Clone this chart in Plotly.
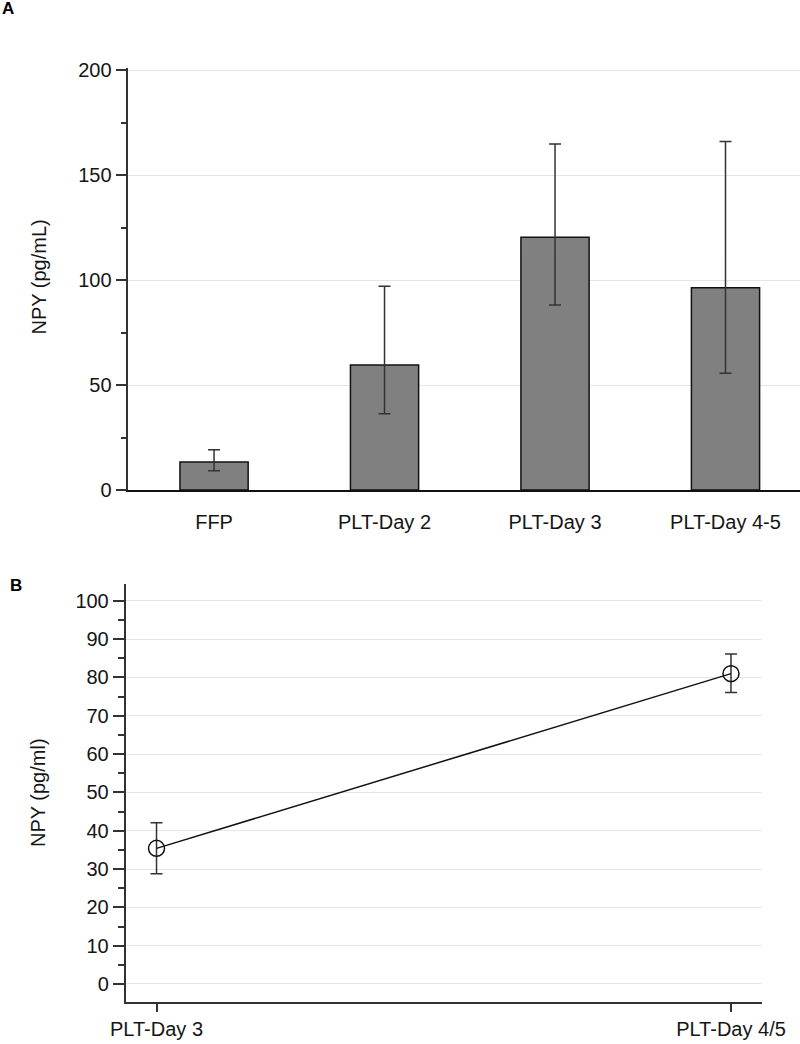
import plotly.graph_objects as go

# Panel A data
cats_a = ["FFP", "PLT-Day 2", "PLT-Day 3", "PLT-Day 4-5"]
mean_a = [13.3, 59.5, 120.3, 96.3]
upper_a = [19.2, 97.0, 164.8, 166.0]
lower_a = [9.2, 36.3, 88.1, 55.6]

# Panel B data
cats_b = ["PLT-Day 3", "PLT-Day 4/5"]
mean_b = [35.4, 81.0]
upper_b = [42.1, 86.1]
lower_b = [28.8, 76.1]

yticks_a = [0, 50, 100, 150, 200]
yticks_b = [0, 10, 20, 30, 40, 50, 60, 70, 80, 90, 100]

FONT = "Arial, Liberation Sans, sans-serif"
AX = "#333333"
GRID = "#e6e6e6"
W, H = 800, 1044

fig = go.Figure()

fig.add_trace(go.Bar(
    x=cats_a, y=mean_a, width=0.4,
    marker=dict(color="#808080", line=dict(color="#111111", width=1.5)),
    error_y=dict(type="data", symmetric=False,
                 array=[u - m for u, m in zip(upper_a, mean_a)],
                 arrayminus=[m - l for m, l in zip(mean_a, lower_a)],
                 color=AX, thickness=1.5, width=6),
    xaxis="x", yaxis="y", showlegend=False, hoverinfo="skip",
))

fig.add_trace(go.Scatter(
    x=cats_b, y=mean_b, mode="lines+markers",
    line=dict(color="#111111", width=1.5),
    marker=dict(symbol="circle-open", size=16, color="#111111", line=dict(width=1.5)),
    error_y=dict(type="data", symmetric=False,
                 array=[u - m for u, m in zip(upper_b, mean_b)],
                 arrayminus=[m - l for m, l in zip(mean_b, lower_b)],
                 color=AX, thickness=1.5, width=6),
    xaxis="x2", yaxis="y2", showlegend=False, hoverinfo="skip",
))

def px_x(p):
    return p / W

def px_y(p):
    return (H - p) / H

fig.update_layout(
    width=W, height=H, autosize=False,
    margin=dict(l=0, r=0, t=0, b=0, pad=0),
    paper_bgcolor="white", plot_bgcolor="white",
    font=dict(family=FONT, size=20, color="#151515"),
    xaxis=dict(domain=[px_x(128.3), 1.0], range=[-0.503, 3.437],
               type="category", showgrid=False, zeroline=False, automargin=False,
               showline=True, linecolor="#111111", linewidth=1.5,
               ticks="outside", ticklen=13, tickcolor="rgba(0,0,0,0)",
               anchor="y"),
    yaxis=dict(domain=[px_y(490), px_y(67.9)], range=[0, 201], automargin=False,
               tickvals=yticks_a, showgrid=True, gridcolor=GRID, gridwidth=1,
               zeroline=False, showline=True, linecolor=AX, linewidth=1.5,
               ticks="outside", ticklen=11, tickwidth=1.5, tickcolor=AX,
               minor=dict(dtick=25, tick0=0, ticks="outside", ticklen=6,
                          tickwidth=1.5, tickcolor=AX, showgrid=False),
               anchor="x"),
    xaxis2=dict(domain=[px_x(125.5), px_x(762)], range=[-0.054, 1.054],
                type="category", showgrid=False, zeroline=False, automargin=False,
                showline=True, linecolor=AX, linewidth=1.5,
                ticks="outside", ticklen=8, tickwidth=1.5, tickcolor=AX,
                anchor="y2"),
    yaxis2=dict(domain=[px_y(1002), px_y(584)], range=[-4.7, 104.4], automargin=False,
                tickvals=yticks_b, showgrid=True, gridcolor=GRID, gridwidth=1,
                zeroline=False, showline=True, linecolor=AX, linewidth=1.5,
                ticks="outside", ticklen=11, tickwidth=1.5, tickcolor=AX,
                minor=dict(dtick=5, tick0=0, ticks="outside", ticklen=6,
                           tickwidth=1.5, tickcolor=AX, showgrid=False),
                anchor="x2"),
)

fig.add_annotation(text="NPY (pg/mL)", textangle=-90, x=px_x(39), y=px_y(277.5),
                   xref="paper", yref="paper", showarrow=False,
                   xanchor="center", yanchor="middle", font=dict(size=20))
fig.add_annotation(text="NPY (pg/ml)", textangle=-90, x=px_x(38), y=px_y(793),
                   xref="paper", yref="paper", showarrow=False,
                   xanchor="center", yanchor="middle", font=dict(size=20))
fig.add_annotation(text="<b>A</b>", x=px_x(8), y=px_y(9),
                   xref="paper", yref="paper", showarrow=False,
                   xanchor="center", yanchor="middle", font=dict(size=17, color="black"))
fig.add_annotation(text="<b>B</b>", x=px_x(16), y=px_y(585),
                   xref="paper", yref="paper", showarrow=False,
                   xanchor="center", yanchor="middle", font=dict(size=17, color="black"))

fig.write_html(
    "out.html",
    config={"displayModeBar": False, "responsive": False},
    post_script="document.body.style.margin='0';document.body.style.overflow='hidden';",
)
